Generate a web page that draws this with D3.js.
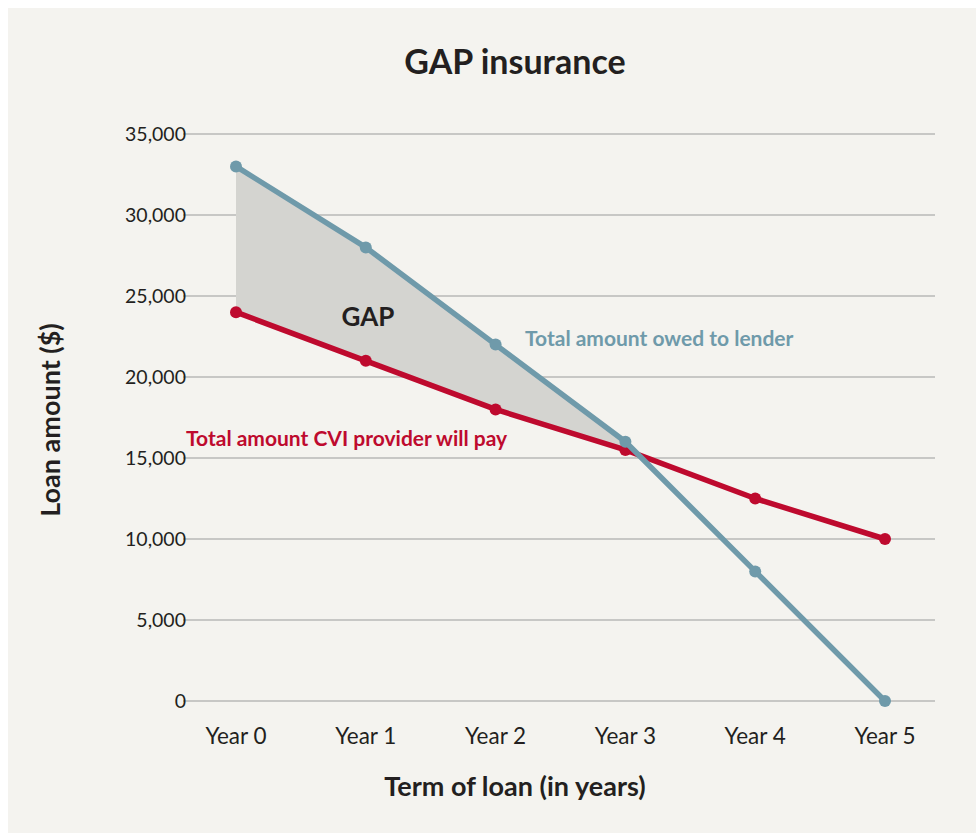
<!DOCTYPE html>
<html>
<head>
<meta charset="utf-8">
<script src="https://cdn.jsdelivr.net/npm/d3@7"></script>
<style>
  body { margin: 0; background: #ffffff; }
  svg { display: block; }
</style>
</head>
<body>
<div id="chart-container"></div>
<script>
// Chart data
const years = ["Year 0", "Year 1", "Year 2", "Year 3", "Year 4", "Year 5"];
const owedToLender = [33000, 28000, 22000, 16000, 8000, 0];
const cviWillPay = [24000, 21000, 18000, 15500, 12500, 10000];
const yTicks = [0, 5000, 10000, 15000, 20000, 25000, 30000, 35000];
const gapYears = 4; // gap shaded from Year 0 through Year 3

const width = 976;
const height = 833;
const font = "Lato, 'Open Sans', sans-serif";

const svg = d3.select("#chart-container")
  .append("svg")
  .attr("width", width)
  .attr("height", height);

// Panel background
svg.append("rect")
  .attr("x", 8)
  .attr("y", 8)
  .attr("width", width - 8)
  .attr("height", height - 8)
  .style("fill", "#f4f3ef");

const x = d3.scalePoint().domain(years).range([236, 885]);
const y = d3.scaleLinear().domain([0, 35000]).range([701, 134]);

// Grid lines
svg.append("g")
  .selectAll("line")
  .data(yTicks)
  .join("line")
  .attr("x1", 183)
  .attr("x2", 935)
  .attr("y1", (d) => y(d))
  .attr("y2", (d) => y(d))
  .style("stroke", "#b9b9b7")
  .style("stroke-width", 1.5);

// Y tick labels
svg.append("g")
  .selectAll("text")
  .data(yTicks)
  .join("text")
  .attr("x", 186)
  .attr("y", (d) => y(d))
  .attr("dy", "0.36em")
  .attr("text-anchor", "end")
  .style("font-family", font)
  .style("font-size", "19.5px")
  .style("fill", "#231f20")
  .text((d) => d3.format(",")(d));

// X tick labels
svg.append("g")
  .selectAll("text")
  .data(years)
  .join("text")
  .attr("x", (d) => x(d))
  .attr("y", 744)
  .attr("text-anchor", "middle")
  .style("font-family", font)
  .style("font-size", "22.5px")
  .style("fill", "#231f20")
  .text((d) => d);

// GAP area between the two lines
const gapData = years.slice(0, gapYears).map((yr, i) => ({
  year: yr,
  top: owedToLender[i],
  bottom: cviWillPay[i],
}));

svg.append("path")
  .datum(gapData)
  .attr("d", d3.area()
    .x((d) => x(d.year))
    .y0((d) => y(d.bottom))
    .y1((d) => y(d.top)))
  .style("fill", "#d4d4d0");

// Lines and points
function drawSeries(values, color) {
  const pts = years.map((yr, i) => ({ year: yr, value: values[i] }));
  svg.append("path")
    .datum(pts)
    .attr("d", d3.line().x((d) => x(d.year)).y((d) => y(d.value)))
    .style("fill", "none")
    .style("stroke", color)
    .style("stroke-width", 5.5)
    .style("stroke-linejoin", "round");
  svg.append("g")
    .selectAll("circle")
    .data(pts)
    .join("circle")
    .attr("cx", (d) => x(d.year))
    .attr("cy", (d) => y(d.value))
    .attr("r", 6)
    .style("fill", color);
}

drawSeries(cviWillPay, "#be0a2e");
drawSeries(owedToLender, "#6f9aaa");

// Annotations
svg.append("text")
  .attr("x", 368)
  .attr("y", 326)
  .attr("text-anchor", "middle")
  .style("font-family", font)
  .style("font-weight", "bold")
  .style("font-size", "26px")
  .style("fill", "#231f20")
  .text("GAP");

svg.append("text")
  .attr("x", 525)
  .attr("y", 346)
  .style("font-family", font)
  .style("font-weight", "bold")
  .style("font-size", "21px")
  .style("fill", "#6f9aaa")
  .text("Total amount owed to lender");

svg.append("text")
  .attr("x", 186)
  .attr("y", 446)
  .style("font-family", font)
  .style("font-weight", "bold")
  .style("font-size", "21px")
  .style("fill", "#be0a2e")
  .text("Total amount CVI provider will pay");

// Title and axis titles
svg.append("text")
  .attr("x", 515)
  .attr("y", 74)
  .attr("text-anchor", "middle")
  .style("font-family", font)
  .style("font-weight", "bold")
  .style("font-size", "34px")
  .style("fill", "#231f20")
  .text("GAP insurance");

svg.append("text")
  .attr("x", 515)
  .attr("y", 796)
  .attr("text-anchor", "middle")
  .style("font-family", font)
  .style("font-weight", "bold")
  .style("font-size", "27px")
  .style("fill", "#231f20")
  .text("Term of loan (in years)");

svg.append("text")
  .attr("transform", "translate(60, 420) rotate(-90)")
  .attr("text-anchor", "middle")
  .style("font-family", font)
  .style("font-weight", "bold")
  .style("font-size", "27px")
  .style("fill", "#231f20")
  .text("Loan amount ($)");
</script>
</body>
</html>
